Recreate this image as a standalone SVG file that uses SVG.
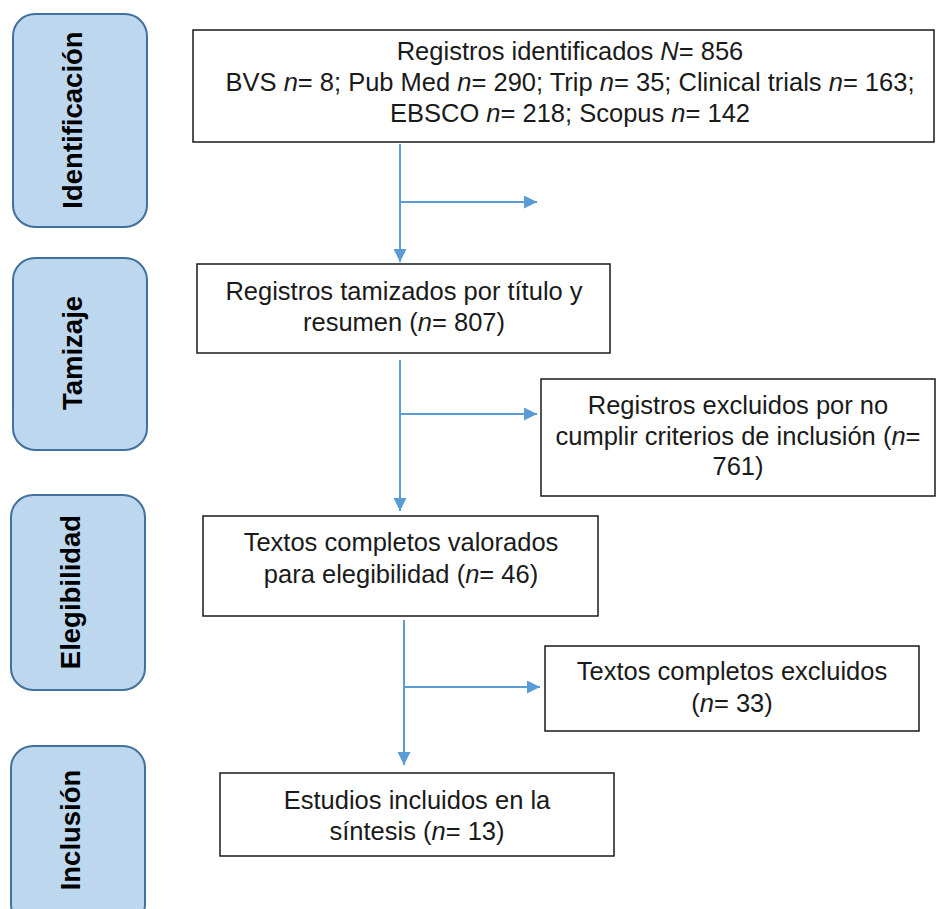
<svg xmlns="http://www.w3.org/2000/svg" width="936" height="909" viewBox="0 0 936 909">
<style>
.stage rect{fill:#bdd7ee;stroke:#41719c;stroke-width:2}
.stage text{font-family:"Liberation Sans",Arial,sans-serif;font-weight:bold;font-size:27.5px;fill:#000;text-anchor:middle}
.box rect{fill:#fff;stroke:#1a1a1a;stroke-width:1.5}
.box text{font-family:"Liberation Sans",Arial,sans-serif;font-size:25.5px;fill:#1a1a1a;text-anchor:middle}
.conn line{stroke:#5b9bd5;stroke-width:2;fill:none}
</style>
<defs>
<marker id="ah" viewBox="0 0 13 13" refX="13" refY="6.5" markerWidth="13" markerHeight="13" markerUnits="userSpaceOnUse" orient="auto">
<path d="M0,0 L13,6.5 L0,13 Z" fill="#5b9bd5"/>
</marker>
</defs>
<rect width="936" height="909" fill="#fff"/>
<g id="stage-identificacion" class="stage"><rect x="13" y="14" width="134" height="213" rx="22"/><text transform="translate(82,120) rotate(-90)">Identificación</text></g>
<g id="stage-tamizaje" class="stage"><rect x="13" y="258" width="134" height="192" rx="22"/><text transform="translate(82,353) rotate(-90)">Tamizaje</text></g>
<g id="stage-elegibilidad" class="stage"><rect x="11" y="495" width="134" height="195" rx="22"/><text transform="translate(80,592) rotate(-90)">Elegibilidad</text></g>
<g id="stage-inclusion" class="stage"><rect x="11" y="746" width="134" height="180" rx="22"/><text transform="translate(80,830) rotate(-90)">Inclusión</text></g>

<g id="n-identificados" class="box"><rect x="193" y="30" width="741" height="112"/>
<text x="570" y="60">Registros identificados <tspan font-style="italic">N</tspan>= 856</text>
<text x="570" y="91">BVS <tspan font-style="italic">n</tspan>= 8; Pub Med <tspan font-style="italic">n</tspan>= 290; Trip <tspan font-style="italic">n</tspan>= 35; Clinical trials <tspan font-style="italic">n</tspan>= 163;</text>
<text x="570" y="122">EBSCO <tspan font-style="italic">n</tspan>= 218; Scopus <tspan font-style="italic">n</tspan>= 142</text></g>

<g id="n-tamizados" class="box"><rect x="197" y="264" width="413" height="89"/>
<text x="404" y="300">Registros tamizados por título y</text>
<text x="404" y="331">resumen (<tspan font-style="italic">n</tspan>= 807)</text></g>

<g id="n-excluidos" class="box"><rect x="541" y="379" width="394" height="117"/>
<text x="738" y="414">Registros excluidos por no</text>
<text x="738" y="445">cumplir criterios de inclusión (<tspan font-style="italic">n</tspan>=</text>
<text x="738" y="475">761)</text></g>

<g id="n-valorados" class="box"><rect x="203" y="516" width="395" height="100"/>
<text x="401" y="551">Textos completos valorados</text>
<text x="401" y="583">para elegibilidad (<tspan font-style="italic">n</tspan>= 46)</text></g>

<g id="n-textos-excluidos" class="box"><rect x="545" y="646" width="374" height="85"/>
<text x="732" y="680">Textos completos excluidos</text>
<text x="732" y="712">(<tspan font-style="italic">n</tspan>= 33)</text></g>

<g id="n-incluidos" class="box"><rect x="220" y="773" width="394" height="83"/>
<text x="417" y="809">Estudios incluidos en la</text>
<text x="417" y="840">síntesis (<tspan font-style="italic">n</tspan>= 13)</text></g>

<g id="connectors" class="conn">
<line x1="400" y1="144" x2="400" y2="262" marker-end="url(#ah)"/>
<line x1="400" y1="202" x2="537" y2="202" marker-end="url(#ah)"/>
<line x1="400" y1="360" x2="400" y2="511" marker-end="url(#ah)"/>
<line x1="400" y1="414" x2="537" y2="414" marker-end="url(#ah)"/>
<line x1="404" y1="620" x2="404" y2="765" marker-end="url(#ah)"/>
<line x1="404" y1="687" x2="540" y2="687" marker-end="url(#ah)"/>
</g>
</svg>
